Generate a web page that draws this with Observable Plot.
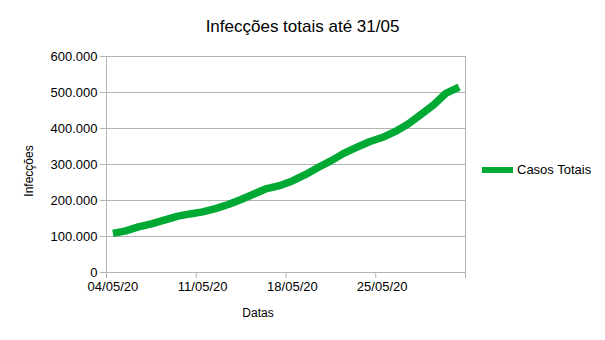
<!DOCTYPE html>
<html>
<head>
<meta charset="utf-8">
<script src="https://cdn.jsdelivr.net/npm/d3@7"></script>
<script src="https://cdn.jsdelivr.net/npm/@observablehq/plot@0.6"></script>
<style>
  html, body { margin: 0; padding: 0; background: #fff; }
  body { font-family: "Liberation Sans", Arial, sans-serif; }
  #wrap { position: relative; width: 605px; height: 340px; }
  .ov { position: absolute; white-space: nowrap; color: #000; }
  #title { left: 0; width: 605px; top: 17px; text-align: center; font-size: 17px; line-height: 20px; }
  #ylab { left: 29px; top: 171px; font-size: 12px; transform: translate(-50%, -50%) rotate(-90deg); }
  #xlab { left: 258px; top: 313px; font-size: 12px; transform: translate(-50%, -50%); }
  #legend { left: 482px; top: 162px; font-size: 13px; line-height: 16px; display: flex; align-items: center; }
  #legend .sw { width: 31px; height: 6px; background: #00a933; margin-right: 4px; }
</style>
</head>
<body>
<div id="wrap">
  <div id="chart"></div>
  <div class="ov" id="title">Infecções totais até 31/05</div>
  <div class="ov" id="ylab">Infecções</div>
  <div class="ov" id="xlab">Datas</div>
  <div class="ov" id="legend"><span class="sw"></span><span>Casos Totais</span></div>
</div>
<script>
const dates = ["04/05/20","05/05/20","06/05/20","07/05/20","08/05/20","09/05/20","10/05/20",
  "11/05/20","12/05/20","13/05/20","14/05/20","15/05/20","16/05/20","17/05/20",
  "18/05/20","19/05/20","20/05/20","21/05/20","22/05/20","23/05/20","24/05/20",
  "25/05/20","26/05/20","27/05/20","28/05/20","29/05/20","30/05/20","31/05/20"];
const casos = [108620,115455,126611,135106,145328,155939,162699,
  168331,177589,188974,202918,218223,233142,241080,
  254220,271628,291579,310087,330890,347398,363211,
  374898,391222,411821,438238,465166,498440,514849];
const yTicks = [0,100000,200000,300000,400000,500000,600000];
const xLabelIdx = [0,7,14,21];

const data = dates.map((d, i) => ({i, d, v: casos[i]}));
const fmt = d3.formatLocale({decimal: ",", thousands: ".", grouping: [3], currency: ["R$", ""]}).format(",d");
const n = dates.length;
const bounds = d3.range(0, n + 1, 7).map(k => k - 0.5);

const grid = "#b3b3b3";
const chart = Plot.plot({
  width: 605,
  height: 340,
  marginLeft: 106,
  marginRight: 140,
  marginTop: 56,
  marginBottom: 68,
  style: {fontFamily: '"Liberation Sans", Arial, sans-serif', fontSize: "13px", color: "#000", background: "#fff"},
  x: {domain: [-0.5, n - 0.5]},
  y: {domain: [0, 600000]},
  marks: [
    Plot.gridY(yTicks, {stroke: grid, strokeOpacity: 1}),
    Plot.ruleX([-0.5, n - 0.5], {stroke: grid}),
    Plot.axisY(yTicks, {tickSize: 6, tickPadding: 3, tickFormat: fmt, label: null, stroke: grid, fill: "#000", fontSize: 13}),
    Plot.axisX(bounds, {tickSize: 6, tickFormat: () => "", label: null, stroke: grid}),
    Plot.axisX(xLabelIdx, {tickSize: 0, tickPadding: 9, tickFormat: k => dates[k], label: null, fill: "#000", fontSize: 13}),
    Plot.line(data, {x: "i", y: "v", stroke: "#00a933", strokeWidth: 7.5, strokeLinejoin: "round", strokeLinecap: "butt"})
  ]
});
document.getElementById("chart").appendChild(chart);
</script>
</body>
</html>
